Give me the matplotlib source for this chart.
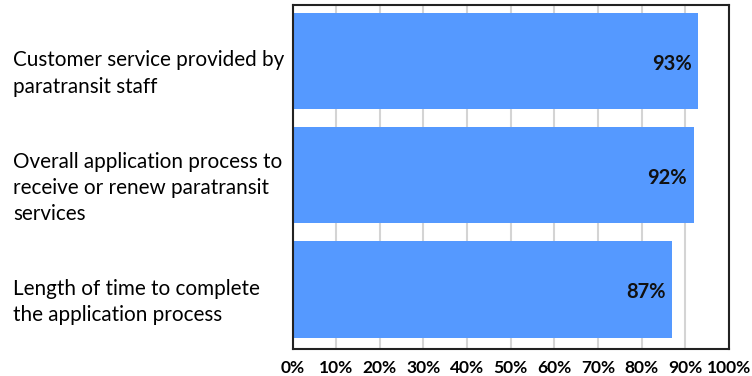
import matplotlib
matplotlib.use("Agg")
import matplotlib.pyplot as plt
from matplotlib.transforms import ScaledTranslation
from matplotlib.ticker import PercentFormatter

categories = [
    "Customer service provided by\nparatransit staff",
    "Overall application process to\nreceive or renew paratransit\nservices",
    "Length of time to complete\nthe application process",
]
values = [93, 92, 87]
x_ticks = [0, 10, 20, 30, 40, 50, 60, 70, 80, 90, 100]

BAR_COLOR = "#5599FF"
GRID_COLOR = "#D4D4D4"
FONT = "Lato"

fig = plt.figure(figsize=(7.52, 3.76), dpi=100)
ax = fig.add_axes([0.389, 0.072, 0.5804, 0.9147])

pos = list(range(len(categories)))
ax.barh(pos, values, height=0.843, color=BAR_COLOR, zorder=2)

ax.set_xlim(0, 100)
ax.set_ylim(2.52, -0.49)
ax.set_xticks(x_ticks)
ax.xaxis.set_major_formatter(PercentFormatter(decimals=0))
ax.grid(axis="x", color=GRID_COLOR, linewidth=1.5, zorder=0)
ax.set_axisbelow(True)
ax.tick_params(axis="x", length=0, pad=8)
ax.tick_params(axis="y", length=0)
for lbl in ax.get_xticklabels():
    lbl.set_fontfamily(FONT)
    lbl.set_fontweight("bold")
    lbl.set_fontsize(12.5)

ax.set_yticks(pos)
ax.set_yticklabels(categories, fontfamily=FONT, fontsize=14.9, ha="left",
                   linespacing=1.38)
shift = ScaledTranslation(-2.745, -0.075, fig.dpi_scale_trans)
for lbl in ax.get_yticklabels():
    lbl.set_transform(lbl.get_transform() + shift)

for spine in ax.spines.values():
    spine.set_color("#222222")
    spine.set_linewidth(1.5)

for p, v in zip(pos, values):
    ax.annotate(f"{v}%", xy=(v, p), xytext=(-5, -2), textcoords="offset points",
                ha="right", va="center", fontfamily=FONT, fontweight="bold",
                fontsize=14.5, color="#111111", zorder=3)

fig.savefig("out.png", dpi=100)
